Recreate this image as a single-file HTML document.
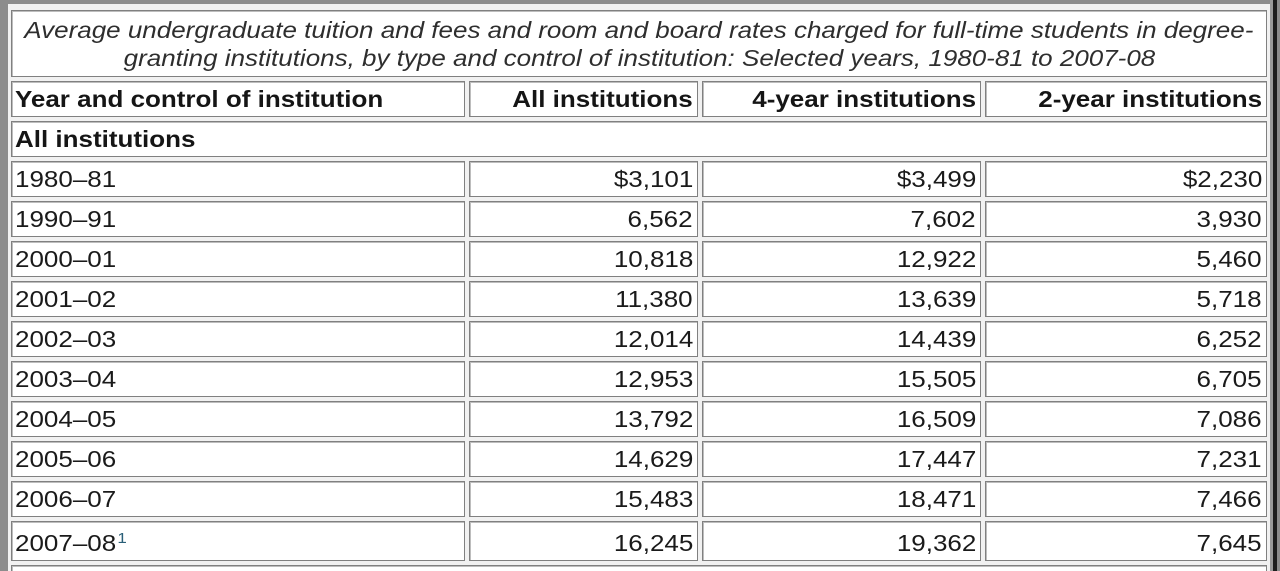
<!DOCTYPE html>
<html>
<head>
<meta charset="utf-8">
<style>
  html, body { margin: 0; padding: 0; overflow: hidden; width: 1280px; height: 571px; }
  #wrap {
    width: 1280px; height: 571px; overflow: hidden; position: relative;
    background: #8c8c8c;
    font-family: "Liberation Sans", Arial, sans-serif;
  }
  .frame { position: absolute; left: 8px; top: 4px; width: 1262px; height: 567px; background: #f1f1f1; }
  .rline1 { position: absolute; left: 1270px; top: 0; width: 3px; height: 571px; background: #9a9a9a; }
  .rline2 { position: absolute; left: 1273px; top: 0; width: 4px; height: 571px; background: #1e1e1e; }
  .c {
    position: absolute; box-sizing: border-box;
    background: #fff;
    border: 1px solid #808080;
    box-shadow: inset 1px 1px 0 #bdbdbd;
    font-size: 23px; color: #1a1a1a;
    line-height: 34px; white-space: nowrap; overflow: hidden;
  }
  .c1 { left: 11px; width: 454px; }
  .c2 { left: 469px; width: 229px; }
  .c3 { left: 702px; width: 279px; }
  .c4 { left: 985px; width: 282px; }
  .l { text-align: left; padding-left: 3px; }
  .r { text-align: right; padding-right: 4px; }
  .t { display: inline-block; transform: scaleX(1.13); }
  .l .t { transform-origin: 0 50%; }
  .r .t { transform-origin: 100% 50%; }
  .b { font-weight: bold; color: #151515; }
  .cap {
    left: 11px; width: 1256px; top: 10px; height: 67px;
    text-align: center; font-style: italic; color: #2e2e2e;
    line-height: 28px; padding-top: 5px;
  }
  .cap .t { transform-origin: 50% 50%; }
  sup { font-size: 15px; color: #2a5f78; vertical-align: 0; position: relative; top: -8px; margin-left: 1px; }
</style>
</head>
<body>
<div id="wrap">
<div class="frame"></div>
<div class="rline1"></div>
<div class="rline2"></div>

<div class="c cap"><span class="t">Average undergraduate tuition and fees and room and board rates charged for full-time students in degree-</span><br><span class="t">granting institutions, by type and control of institution: Selected years, 1980-81 to 2007-08</span></div>

<div class="c c1 l b" style="top:81px;height:36px;"><span class="t">Year and control of institution</span></div>
<div class="c c2 r b" style="top:81px;height:36px;"><span class="t">All institutions</span></div>
<div class="c c3 r b" style="top:81px;height:36px;"><span class="t">4-year institutions</span></div>
<div class="c c4 r b" style="top:81px;height:36px;"><span class="t">2-year institutions</span></div>

<div class="c l b" style="left:11px;width:1256px;top:121px;height:36px;"><span class="t">All institutions</span></div>

<div class="c c1 l" style="top:161px;height:36px;"><span class="t">1980–81</span></div>
<div class="c c2 r" style="top:161px;height:36px;"><span class="t">$3,101</span></div>
<div class="c c3 r" style="top:161px;height:36px;"><span class="t">$3,499</span></div>
<div class="c c4 r" style="top:161px;height:36px;"><span class="t">$2,230</span></div>

<div class="c c1 l" style="top:201px;height:36px;"><span class="t">1990–91</span></div>
<div class="c c2 r" style="top:201px;height:36px;"><span class="t">6,562</span></div>
<div class="c c3 r" style="top:201px;height:36px;"><span class="t">7,602</span></div>
<div class="c c4 r" style="top:201px;height:36px;"><span class="t">3,930</span></div>

<div class="c c1 l" style="top:241px;height:36px;"><span class="t">2000–01</span></div>
<div class="c c2 r" style="top:241px;height:36px;"><span class="t">10,818</span></div>
<div class="c c3 r" style="top:241px;height:36px;"><span class="t">12,922</span></div>
<div class="c c4 r" style="top:241px;height:36px;"><span class="t">5,460</span></div>

<div class="c c1 l" style="top:281px;height:36px;"><span class="t">2001–02</span></div>
<div class="c c2 r" style="top:281px;height:36px;"><span class="t">11,380</span></div>
<div class="c c3 r" style="top:281px;height:36px;"><span class="t">13,639</span></div>
<div class="c c4 r" style="top:281px;height:36px;"><span class="t">5,718</span></div>

<div class="c c1 l" style="top:321px;height:36px;"><span class="t">2002–03</span></div>
<div class="c c2 r" style="top:321px;height:36px;"><span class="t">12,014</span></div>
<div class="c c3 r" style="top:321px;height:36px;"><span class="t">14,439</span></div>
<div class="c c4 r" style="top:321px;height:36px;"><span class="t">6,252</span></div>

<div class="c c1 l" style="top:361px;height:36px;"><span class="t">2003–04</span></div>
<div class="c c2 r" style="top:361px;height:36px;"><span class="t">12,953</span></div>
<div class="c c3 r" style="top:361px;height:36px;"><span class="t">15,505</span></div>
<div class="c c4 r" style="top:361px;height:36px;"><span class="t">6,705</span></div>

<div class="c c1 l" style="top:401px;height:36px;"><span class="t">2004–05</span></div>
<div class="c c2 r" style="top:401px;height:36px;"><span class="t">13,792</span></div>
<div class="c c3 r" style="top:401px;height:36px;"><span class="t">16,509</span></div>
<div class="c c4 r" style="top:401px;height:36px;"><span class="t">7,086</span></div>

<div class="c c1 l" style="top:441px;height:36px;"><span class="t">2005–06</span></div>
<div class="c c2 r" style="top:441px;height:36px;"><span class="t">14,629</span></div>
<div class="c c3 r" style="top:441px;height:36px;"><span class="t">17,447</span></div>
<div class="c c4 r" style="top:441px;height:36px;"><span class="t">7,231</span></div>

<div class="c c1 l" style="top:481px;height:36px;"><span class="t">2006–07</span></div>
<div class="c c2 r" style="top:481px;height:36px;"><span class="t">15,483</span></div>
<div class="c c3 r" style="top:481px;height:36px;"><span class="t">18,471</span></div>
<div class="c c4 r" style="top:481px;height:36px;"><span class="t">7,466</span></div>

<div class="c c1 l" style="top:521px;height:40px;padding-top:4px;"><span class="t">2007–08<sup>1</sup></span></div>
<div class="c c2 r" style="top:521px;height:40px;padding-top:4px;"><span class="t">16,245</span></div>
<div class="c c3 r" style="top:521px;height:40px;padding-top:4px;"><span class="t">19,362</span></div>
<div class="c c4 r" style="top:521px;height:40px;padding-top:4px;"><span class="t">7,645</span></div>

<div class="c" style="left:11px;width:1256px;top:565px;height:6px;border-bottom:0;"></div>
</div>
</body>
</html>
